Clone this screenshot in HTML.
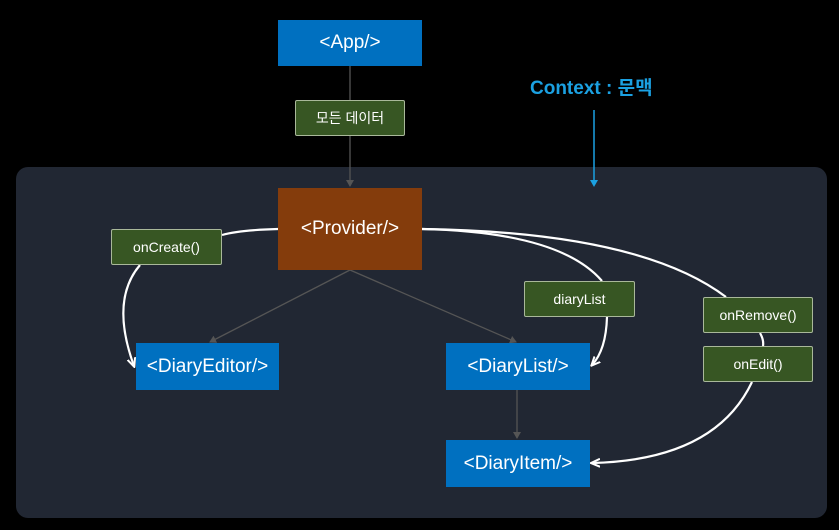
<!DOCTYPE html>
<html><head><meta charset="utf-8"><style>
body{margin:0;background:#000;width:839px;height:530px;overflow:hidden;position:relative;font-family:"Liberation Sans","Noto Sans CJK KR",sans-serif}
.b{position:absolute;display:flex;align-items:center;justify-content:center;color:#fff;box-sizing:border-box}
.blue{background:#0070c0;font-size:19px}
.g{background:#375623;border:1px solid #a9b89a;font-size:14px;border-radius:2px}
</style></head><body>
<div style="position:absolute;left:16px;top:167px;width:811px;height:351px;background:#212733;border-radius:12px"></div>
<svg width="839" height="530" style="position:absolute;left:0;top:0">
<defs>
<marker id="ag" markerWidth="8" markerHeight="8" refX="6" refY="4" orient="auto" markerUnits="userSpaceOnUse"><path d="M0,0L7,4L0,8z" fill="#555"/></marker>
<marker id="aw" markerWidth="10" markerHeight="10" refX="8" refY="5" orient="auto" markerUnits="userSpaceOnUse"><path d="M0,1L9,5L0,9" fill="none" stroke="#fff" stroke-width="2"/></marker>
</defs>
<g stroke="#555" stroke-width="1.3" fill="none">
<line x1="350" y1="66" x2="350" y2="186" marker-end="url(#ag)"/>
<line x1="350" y1="270" x2="210" y2="342" marker-end="url(#ag)"/>
<line x1="350" y1="270" x2="516" y2="342" marker-end="url(#ag)"/>
<line x1="517" y1="390" x2="517" y2="438" marker-end="url(#ag)"/>
</g>
<line x1="594" y1="110" x2="594" y2="184" stroke="#1ba1e2" stroke-width="1.5"/>
<path d="M590,180L594,187L598,180z" fill="#1ba1e2"/>
<g stroke="#fff" stroke-width="2.2" fill="none">
<path d="M278,229 Q240,230 222,235"/>
<path d="M140,265 Q110,300 134,366" marker-end="url(#aw)"/>
<path d="M422,229 Q560,232 602,281"/>
<path d="M607,317 Q606,350 592,365" marker-end="url(#aw)"/>
<path d="M422,229 Q640,232 726,297"/>
<path d="M760,333 Q764,340 763,346"/>
<path d="M752,382 Q715,460 592,463" marker-end="url(#aw)"/>
</g>
</svg>
<div class="b blue" style="left:278px;top:20px;width:144px;height:46px">&lt;App/&gt;</div>
<div class="b g" style="left:295px;top:100px;width:110px;height:36px">모든 데이터</div>
<div class="b" style="left:278px;top:188px;width:144px;height:82px;background:#843c0c;font-size:19px">&lt;Provider/&gt;</div>
<div class="b g" style="left:111px;top:229px;width:111px;height:36px">onCreate()</div>
<div class="b blue" style="left:136px;top:343px;width:143px;height:47px">&lt;DiaryEditor/&gt;</div>
<div class="b blue" style="left:446px;top:343px;width:144px;height:47px">&lt;DiaryList/&gt;</div>
<div class="b blue" style="left:446px;top:440px;width:144px;height:47px">&lt;DiaryItem/&gt;</div>
<div class="b g" style="left:524px;top:281px;width:111px;height:36px">diaryList</div>
<div class="b g" style="left:703px;top:297px;width:110px;height:36px">onRemove()</div>
<div class="b g" style="left:703px;top:346px;width:110px;height:36px">onEdit()</div>
<div style="position:absolute;left:530px;top:73px;color:#1ba1e2;font-size:19px;font-weight:bold">Context : 문맥</div>
</body></html>
